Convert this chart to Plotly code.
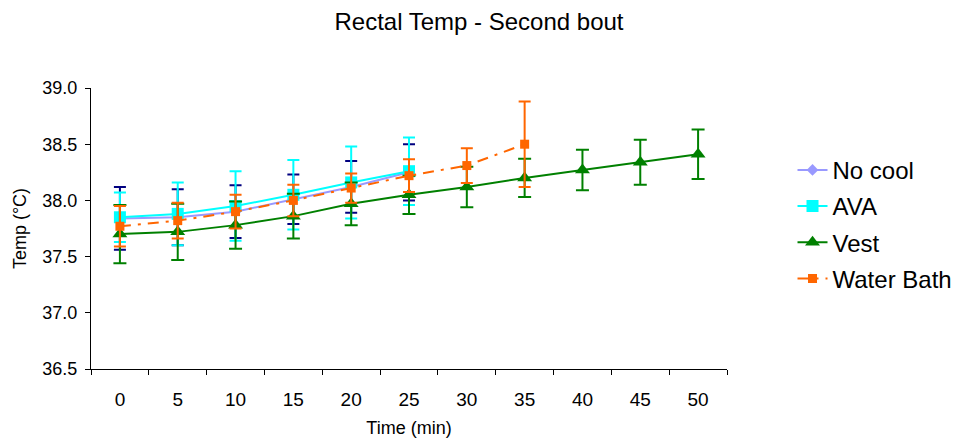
import plotly.graph_objects as go

time_labels = ["0", "5", "10", "15", "20", "25", "30", "35", "40", "45", "50"]

no_cool = [37.84, 37.85, 37.90, 38.01, 38.12, 38.25]
no_cool_err = [0.28, 0.25, 0.235, 0.22, 0.23, 0.25]

ava = [37.85, 37.88, 37.95, 38.05, 38.16, 38.26]
ava_err = [0.22, 0.28, 0.31, 0.31, 0.32, 0.30]

vest = [37.70, 37.72, 37.78, 37.86, 37.97, 38.05, 38.12, 38.20, 38.27, 38.34, 38.41]
vest_err = [0.26, 0.25, 0.21, 0.20, 0.19, 0.17, 0.18, 0.17, 0.18, 0.20, 0.22]

water = [37.77, 37.82, 37.90, 38.00, 38.11, 38.22, 38.31, 38.50]
water_err = [0.18, 0.16, 0.15, 0.14, 0.13, 0.145, 0.155, 0.38]

FONT = "Arial, Liberation Sans, sans-serif"

fig = go.Figure()

fig.add_trace(go.Scatter(
    x=time_labels[:len(no_cool)], y=no_cool, name="No cool", legendgroup="a",
    mode="lines+markers",
    line=dict(color="#9999FF", width=2),
    marker=dict(symbol="diamond", size=9, color="#9999FF"),
    error_y=dict(type="data", array=no_cool_err, color="#000080", thickness=2, width=6),
))
fig.add_trace(go.Scatter(
    x=time_labels[:len(ava)], y=ava, name="AVA", legendgroup="b",
    mode="lines+markers",
    line=dict(color="#00FFFF", width=2),
    marker=dict(symbol="square", size=12, color="#00FFFF"),
    error_y=dict(type="data", array=ava_err, color="#00FFFF", thickness=2, width=6),
))
fig.add_trace(go.Scatter(
    x=time_labels[:len(vest)], y=vest, name="Vest", legendgroup="c",
    mode="lines+markers",
    line=dict(color="#008000", width=2),
    marker=dict(symbol="triangle-up", size=13, color="#008000"),
    error_y=dict(type="data", array=vest_err, color="#008000", thickness=2, width=6.5),
))
fig.add_trace(go.Scatter(
    x=time_labels[:len(water)], y=water, name="Water Bath", legendgroup="d",
    mode="lines+markers",
    line=dict(color="#FF6600", width=2, dash="11px,7px,3px,7px"),
    marker=dict(symbol="square", size=9, color="#FF6600"),
    error_y=dict(type="data", array=water_err, color="#FF6600", thickness=2, width=6),
))

fig.update_layout(
    width=958, height=438,
    margin=dict(l=91, r=231, t=88, b=69, autoexpand=False),
    paper_bgcolor="white", plot_bgcolor="white",
    font=dict(family=FONT, color="black", size=18),
    title=dict(text="Rectal Temp - Second bout", x=0.5, xanchor="center",
               y=0.95, yanchor="middle", font=dict(size=24, family=FONT)),
    showlegend=True,
    legend=dict(x=1.103, xanchor="left", y=0.515, yanchor="middle",
                font=dict(size=24, family=FONT), traceorder="grouped",
                tracegroupgap=2, bgcolor="rgba(0,0,0,0)"),
    xaxis=dict(
        type="category", categoryorder="array", categoryarray=time_labels,
        range=[-0.5, 10.5], showline=True, linecolor="black", linewidth=1,
        ticks="outside", ticklen=5, tickcolor="black", tickson="boundaries",
        showgrid=False, zeroline=False, ticklabelstandoff=13,
        tickfont=dict(size=19),
        title=dict(text="Time (min)", font=dict(size=18), standoff=17),
    ),
    yaxis=dict(
        range=[36.5, 39.0], dtick=0.5, tick0=36.5, tickformat=".1f",
        showline=True, linecolor="black", linewidth=1,
        ticks="outside", ticklen=5, tickcolor="black",
        showgrid=False, zeroline=False, ticklabelstandoff=4,
        tickfont=dict(size=18),
        title=dict(text="Temp (\u00b0C)", font=dict(size=18), standoff=11),
    ),
)

fig.write_html("out.html")
